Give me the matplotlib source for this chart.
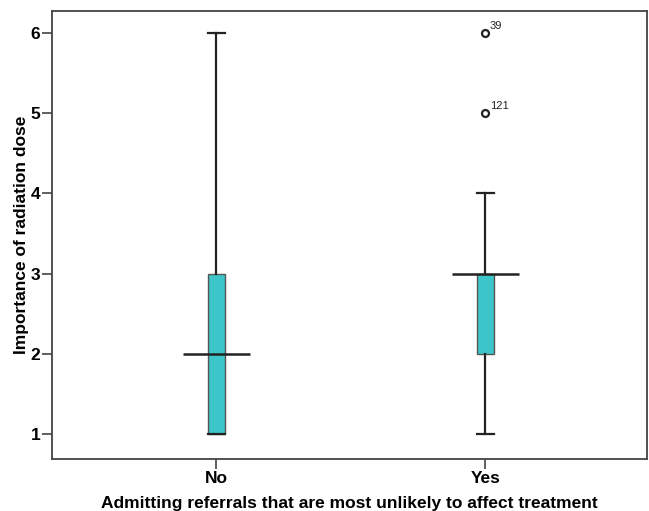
import numpy as np
import matplotlib
matplotlib.use('Agg')
import matplotlib.pyplot as plt

plt.rcParams['font.family'] = ['Liberation Sans', 'DejaVu Sans']

# box plot summary per group
groups = ['No', 'Yes']
q1 = [1, 2]
med = [2, 3]
q3 = [3, 3]
whislo = [1, 1]
whishi = [6, 4]
fliers = [[], [6, 5]]
flier_ids = [[], ['39', '121']]

stats = []
for i in range(len(groups)):
    stats.append({'label': groups[i], 'q1': q1[i], 'med': med[i], 'q3': q3[i],
                  'whislo': whislo[i], 'whishi': whishi[i],
                  'fliers': np.array(fliers[i])})

fig = plt.figure(figsize=(6.49, 5.11), dpi=100)
ax = fig.add_axes([52/649, 1 - 459/511, (647-52)/649, (459-11)/511])

pos = np.arange(len(groups))
lc = '#222222'
ax.bxp(stats, positions=pos, widths=0.063, capwidths=0.063, patch_artist=True,
       boxprops=dict(facecolor='#3cc6c9', edgecolor='#555555', linewidth=1.0),
       whiskerprops=dict(color=lc, linewidth=1.6),
       capprops=dict(color=lc, linewidth=1.6),
       medianprops=dict(visible=False),
       flierprops=dict(marker='o', markersize=5, markerfacecolor='white',
                       markeredgecolor=lc, markeredgewidth=1.6))

# long median bars
ax.hlines(med, pos - 0.125, pos + 0.125, color=lc, linewidth=1.8, zorder=5)

# case labels next to the outliers
for i in range(len(groups)):
    for v, lab in zip(fliers[i], flier_ids[i]):
        ax.annotate(lab, (pos[i], v), xytext=(3, 3), textcoords='offset points',
                    fontsize=8, color='#222222')

ax.set_xlim(-0.61, 1.60)
ax.set_ylim(0.69, 6.27)
ax.set_xticks(pos)
ax.set_xticklabels(groups)
ax.set_yticks([1, 2, 3, 4, 5, 6])
ax.tick_params(direction='out', length=7, width=1.2, color='#444444',
               labelsize=12.5, pad=1.5)
for t in ax.get_xticklabels() + ax.get_yticklabels():
    t.set_fontweight('bold')
for s in ax.spines.values():
    s.set_linewidth(1.3)
    s.set_color('#444444')

ax.set_ylabel('Importance of radiation dose', fontsize=12.5, fontweight='bold', labelpad=1)
ax.set_xlabel('Admitting referrals that are most unlikely to affect treatment',
              fontsize=12.5, fontweight='bold', labelpad=7)

fig.savefig('out.png', dpi=100)
